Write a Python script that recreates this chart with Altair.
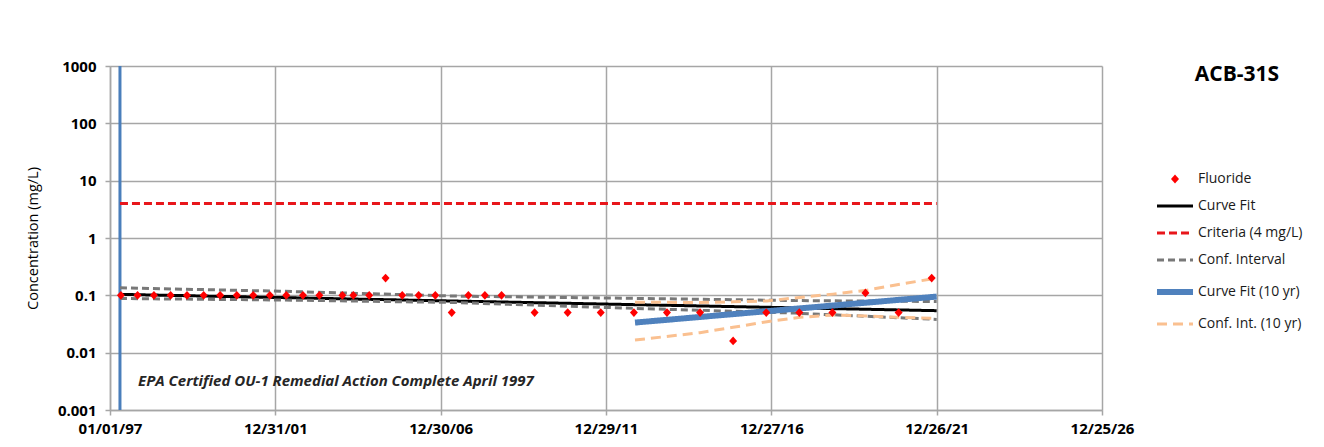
import altair as alt
import pandas as pd

# ---------------- data ----------------
fl_dates = ["1997-05-01", "1997-11-01", "1998-05-01", "1998-11-01", "1999-05-01", "1999-11-01",
            "2000-05-01", "2000-11-01", "2001-05-01", "2001-11-01", "2002-05-01", "2002-11-01",
            "2003-05-01", "2004-01-10", "2004-05-10", "2004-11-01", "2005-05-01", "2005-11-01",
            "2006-05-01", "2006-11-01", "2007-05-01", "2007-11-01", "2008-05-01", "2008-11-01",
            "2009-11-01", "2010-11-01", "2011-11-01", "2012-11-01", "2013-11-01", "2014-11-01",
            "2015-11-01", "2016-11-01", "2017-11-01", "2018-11-01", "2019-11-01", "2020-11-01",
            "2021-11-01"]
fl_values = [0.1, 0.1, 0.1, 0.1, 0.1, 0.1,
             0.1, 0.1, 0.1, 0.1, 0.1, 0.1,
             0.1, 0.1, 0.1, 0.1, 0.2, 0.1,
             0.1, 0.1, 0.05, 0.1, 0.1, 0.1,
             0.05, 0.05, 0.05, 0.05, 0.05, 0.05,
             0.016, 0.05, 0.05, 0.05, 0.11, 0.05,
             0.2]

event_dates = ["1997-04-21"]  # remedial action complete

fit_dates = ["1997-04-21", "2021-12-26"]
fit_values = [0.104, 0.054]

crit_dates = ["1997-04-21", "2021-12-26"]
crit_values = [4, 4]

ci_dates = ["1997-04-21", "2002-02-19", "2007-06-01", "2012-07-15", "2017-09-15", "2021-12-26"]
ci_upper = [0.135, 0.118, 0.097, 0.089, 0.081, 0.078]
ci_lower = [0.088, 0.083, 0.075, 0.060, 0.049, 0.038]

fit10_dates = ["2012-11-13", "2021-12-26"]
fit10_values = [0.0335, 0.095]

ci10_dates = ["2012-11-13", "2014-10-31", "2015-11-01", "2016-11-09", "2017-11-07",
              "2018-11-07", "2019-11-16", "2020-11-15", "2021-12-26"]
ci10_upper = [0.076, 0.075, 0.077, 0.080, 0.092, 0.105, 0.123, 0.156, 0.200]
ci10_lower = [0.0166, 0.0223, 0.0277, 0.0347, 0.0413, 0.0454, 0.0437, 0.0413, 0.0397]

x_tick_dates = ["1997-01-01", "2001-12-31", "2006-12-30", "2011-12-29",
                "2016-12-27", "2021-12-26", "2026-12-25"]
y_ticks = [0.001, 0.01, 0.1, 1, 10, 100, 1000]

series_names = ["Fluoride", "Curve Fit", "Criteria (4 mg/L)", "Conf. Interval",
                "Curve Fit (10 yr)", "Conf. Int. (10 yr)"]

chart_title = "ACB-31S"
y_title = "Concentration (mg/L)"
note_text = "EPA Certified OU-1 Remedial Action Complete April 1997"

# ---------------- styles ----------------
FONT = "Open Sans"
GRID = "#a6a6a6"
series_strokes = ["#ff0000", "#000000", "#e8161b", "#787878", "#4f81bd", "#fac090"]
series_fills = ["#ff0000", "transparent", "transparent", "transparent", "transparent", "transparent"]
series_widths = [0, 3, 3, 3, 6, 3]
series_dashes = [[1, 0], [1, 0], [8, 4], [7, 4], [1, 0], [10, 6]]
SYM_SIZE = 64
DIAMOND = "M0,-1.1L1,0L0,1.1L-1,0Z"
LINE = "M-4.5,0H4.5"
series_shapes = [DIAMOND, LINE, LINE, LINE, LINE, LINE]
style = {n: dict(color=c, strokeWidth=w, strokeDash=d)
         for n, c, w, d in zip(series_names, series_strokes, series_widths, series_dashes)}


def dt(s):
    y, m, d = (int(v) for v in s.split("-"))
    return alt.DateTime(year=y, month=m, date=d, utc=True)


x_enc = alt.X(
    "date:T",
    scale=alt.Scale(type="utc", domain=[dt(x_tick_dates[0]), dt(x_tick_dates[-1])]),
    axis=alt.Axis(values=[dt(s) for s in x_tick_dates],
                  labelExpr="utcFormat(datum.value, '%m/%d/%y')",
                  labelFlush=False, labelOverlap=False, labelPadding=6,
                  title=None),
)
y_enc = alt.Y(
    "value:Q",
    scale=alt.Scale(type="log", domain=[y_ticks[0], y_ticks[-1]]),
    axis=alt.Axis(values=y_ticks, format="~g", labelPadding=9, labelOverlap=False,
                  title=y_title, titleX=-77, titleY=172, titleAngle=-90,
                  titleAlign="center", titleBaseline="middle",
                  titleFont=FONT, titleFontSize=14.5, titleFontWeight="normal",
                  titleColor="#000000"),
)

fl_df = pd.DataFrame({"date": fl_dates, "value": fl_values, "series": "Fluoride"})
ev_df = pd.DataFrame({"date": event_dates})
fit_df = pd.DataFrame({"date": fit_dates, "value": fit_values})
crit_df = pd.DataFrame({"date": crit_dates, "value": crit_values})
ci_df = pd.concat([
    pd.DataFrame({"date": ci_dates, "value": ci_upper, "bound": "upper"}),
    pd.DataFrame({"date": ci_dates, "value": ci_lower, "bound": "lower"}),
])
fit10_df = pd.DataFrame({"date": fit10_dates, "value": fit10_values})
ci10_df = pd.concat([
    pd.DataFrame({"date": ci10_dates, "value": ci10_upper, "bound": "upper"}),
    pd.DataFrame({"date": ci10_dates, "value": ci10_lower, "bound": "lower"}),
])

event_rule = alt.Chart(ev_df).mark_rule(color="#4a7ebb", strokeWidth=3).encode(x=x_enc)


def line_layer(df, name, detail=False):
    enc = dict(x=x_enc, y=y_enc)
    if detail:
        enc["detail"] = "bound:N"
    return alt.Chart(df).mark_line(**style[name]).encode(**enc)


crit_line = line_layer(crit_df, "Criteria (4 mg/L)")
fit_line = line_layer(fit_df, "Curve Fit")
ci_line = line_layer(ci_df, "Conf. Interval", detail=True)
fit10_line = line_layer(fit10_df, "Curve Fit (10 yr)")
ci10_line = line_layer(ci10_df, "Conf. Int. (10 yr)", detail=True)

leg = alt.Legend(title=None)
points = alt.Chart(fl_df).mark_point(filled=True, size=SYM_SIZE, opacity=1).encode(
    x=x_enc, y=y_enc,
    shape=alt.Shape("series:N", scale=alt.Scale(domain=series_names, range=series_shapes), legend=leg),
    fill=alt.Fill("series:N", scale=alt.Scale(domain=series_names, range=series_fills), legend=leg),
    stroke=alt.Stroke("series:N", scale=alt.Scale(domain=series_names, range=series_strokes), legend=leg),
    strokeWidth=alt.StrokeWidth("series:N", scale=alt.Scale(type="ordinal", domain=series_names,
                                                            range=series_widths), legend=leg),
    strokeDash=alt.StrokeDash("series:N", scale=alt.Scale(domain=series_names, range=series_dashes),
                              legend=leg),
)

note = alt.Chart(pd.DataFrame({"t": [note_text]})).mark_text(
    align="left", baseline="middle", font=FONT, fontSize=15, fontStyle="italic",
    fontWeight="bold", color="#262626"
).encode(text="t:N", x=alt.value(28), y=alt.value(315))

title = alt.Chart(pd.DataFrame({"t": [chart_title]})).mark_text(
    align="center", baseline="middle", font=FONT, fontSize=21, fontWeight="bold", color="#000000"
).encode(text="t:N", x=alt.value(1127), y=alt.value(9))

chart = alt.layer(
    event_rule, crit_line, fit_line, ci_line, fit10_line, ci10_line, points, note, title
).properties(
    width=992, height=344,
    padding={"left": 102, "top": 58, "right": 210, "bottom": 29},
    autosize=alt.AutoSizeParams(type="none"),
).configure_view(
    stroke=None
).configure_axis(
    grid=True, gridColor=GRID, gridWidth=1.5,
    domainColor=GRID, domainWidth=1.5,
    tickColor=GRID, tickSize=5, tickWidth=1.5,
    labelFont=FONT, labelFontSize=15, labelFontWeight="bold", labelColor="#000000",
).configure_legend(
    orient="none", legendX=1058, legendY=106,
    symbolSize=SYM_SIZE, labelOffset=16, rowPadding=13,
    labelFont=FONT, labelFontSize=14, labelColor="#1a1a1a",
    padding=0,
)

chart.save("out.html", embed_options={"renderer": "svg", "actions": False})
